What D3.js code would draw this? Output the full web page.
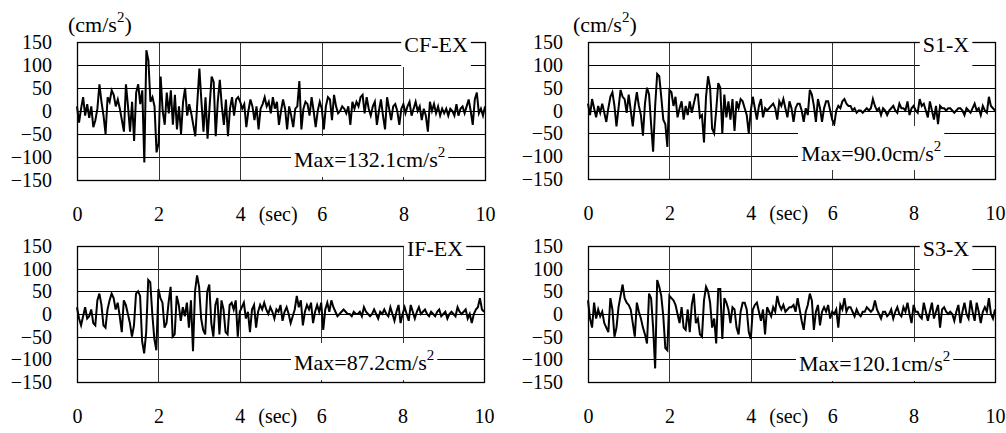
<!DOCTYPE html>
<html>
<head>
<meta charset="utf-8">
<script src="https://cdn.jsdelivr.net/npm/d3@7"></script>
<style>
body { margin: 0; background: #fff; }
</style>
</head>
<body>
<svg id="chart" width="1006" height="433"></svg>
<script>
// sampling step of the records (sec)
var dt = 0.05;

// acceleration records, cm/s^2, one value every dt
var cfEx = [
  10, -25, 5, 30, -10, 15, -15, 10, -35, -20, 5, 58, 20, -10, -50, 30, 20, 45, 35, 10,
  25, 5, -20, -45, 58, 10, -45, 20, -65, 40, 58, 15, 45, -112, 132, 110, 20, 30, 10, -90,
  -70, 75, 0, -30, 40, -5, 45, -30, 35, -40, 10, -50, 20, 50, -10, 15, -5, -30, -55, 20,
  92, 20, -45, 30, -60, 10, 75, 63, -55, 20, 68, 10, -30, 25, -55, 5, 30, -10, 25, 30,
  20, 5, 15, -35, 0, 25, 10, -20, 10, -40, 5, 15, 30, 10, 20, -5, 30, 5, 20, -30,
  0, 25, 5, -40, 10, -10, -35, 5, 10, 65, -40, 5, 20, 15, -10, 30, 0, -35, 0, 20,
  5, -40, 10, 30, 25, -20, 35, 10, -5, 0, 10, 5, -5, 10, -30, 20, 5, 20, 10, 30,
  35, -5, 30, 5, -10, 10, 20, -30, 0, 25, -10, -40, 30, 5, -20, 10, 15, 0, -30, 5,
  15, -5, 10, 20, -10, 5, 20, 0, 10, -20, 5, -10, -45, 20, 0, 15, -5, 10, -10, 5,
  -5, 5, -10, 5, 0, -10, 15, -10, 5, 10, -5, 10, 25, 0, -30, 25, 40, -5, 5, -10, 10
];
var s1X = [
  15, -10, 25, 5, -15, 10, -5, 15, -5, -25, 5, 30, 40, 10, -35, 5, 45, 30, 25, -5,
  35, 0, -35, 10, 40, 10, -10, -55, 15, 50, 35, -30, -90, 10, 80, 75, 30, -20, -30, -80,
  45, 40, 10, 30, -15, 5, 20, -20, 10, -10, 20, -5, 15, 35, 35, -15, -10, -70, 30, 75,
  50, -40, -50, 0, 60, 50, -50, 35, -15, 20, -20, 25, -45, 20, 5, 25, 20, 5, -10, -50,
  0, 30, 5, -20, 10, 25, -15, 5, 0, 5, 10, 15, 5, -20, 20, 10, 25, 5, -15, 20,
  5, -25, 5, 15, 15, 0, -25, 5, -10, 45, 35, 10, -25, 25, 5, -25, 5, 20, 20, 0,
  -20, -30, 0, 10, 5, 20, 25, 15, 10, 10, 0, 5, -5, 0, 0, -5, 0, 5, 0, 5,
  25, 10, 0, 5, -10, 5, 0, -10, 0, 5, 10, 0, -5, 15, 5, 5, 0, 20, -10, 5,
  10, 0, -5, 25, 10, 15, 0, -15, 20, 0, -20, 10, -30, 10, 5, 5, 0, 5, 5, 0,
  -5, 0, 5, 5, 0, -10, 5, 0, -5, 5, 15, 0, 5, -10, 10, 0, -5, 30, 10, 5, 0
];
var ifEx = [
  15, -10, -25, -5, 15, -10, -5, 10, -20, -25, 30, 45, 20, -25, -30, 10, 30, 45, 35, 10,
  25, -5, -40, 30, 20, 0, -20, -50, -25, 45, 50, 40, -60, -87, -40, 75, 70, 0, -55, -80,
  55, 35, 25, -30, -20, 25, 60, -50, -45, 40, 20, -15, 15, -5, 25, -30, 30, -82, 50, 85,
  60, -10, -35, -45, 50, 65, -20, -50, 20, 35, -45, 30, 10, -40, -45, 20, 25, 10, 30, -50,
  5, 15, 25, -10, 5, -40, 10, 20, -30, 5, 20, 10, 25, 10, 0, 15, 5, -10, 10, 5,
  20, -15, 5, 15, 0, -20, -5, 10, 40, 15, 30, -25, 5, 20, 10, 25, -20, 5, 20, 5,
  25, -35, 10, 25, 5, 30, 15, 5, -5, 0, 5, 10, 5, 0, 0, -5, 5, 0, 0, 5,
  -5, 15, 5, 0, -5, 0, 10, 0, -10, 5, 0, 10, 0, -5, 15, 0, -15, 5, 20, -20,
  0, 15, 0, -15, 20, 5, -10, 5, 15, 0, 5, 10, 0, -5, 5, 0, -5, 5, 10, -5,
  0, 5, -10, 0, 5, 0, -5, 15, 5, 0, 5, 10, -10, 0, -20, 0, 10, 15, 35, 10, 5
];
var s3X = [
  30, -10, -30, 25, -10, 10, -5, 5, -20, -30, -40, 35, 10, -50, -30, 15, 40, 65, 35, 25,
  20, 10, -20, -50, 25, 5, -10, -30, -45, -65, 45, 35, -30, -120, 75, 60, 40, -5, -75, -80,
  40, 35, 30, 20, 0, -20, 15, -30, -35, 10, -40, 20, 45, -20, -10, -45, -50, 30, 60, 50,
  25, -30, -10, -65, 55, 55, -55, 35, 25, 10, -20, 15, 10, -30, -45, 5, 25, 25, 10, -40,
  -55, 10, 20, 25, 5, -15, 10, -45, 15, 5, -5, 15, 5, 40, 20, 10, 20, 5, 10, 15,
  15, 20, 5, 35, 10, -15, -35, 5, 20, 45, 30, -35, 5, 20, -25, 5, 15, 5, 20, -10,
  5, 0, 10, -30, 20, 10, 35, 5, 15, 15, 5, -5, 10, 0, -5, 5, 5, 15, 10, 5,
  10, 30, 10, 0, -10, 5, 5, -5, 0, 10, -10, 5, 15, 0, -5, 15, 5, 25, 0, -20,
  20, 5, 5, -5, -10, 25, 5, -15, 5, 25, -10, 5, 20, -30, 10, 15, 5, 0, 5, 0,
  -15, 5, 20, -20, 5, 25, 0, -10, 30, 5, -15, 25, 5, -20, 5, 15, 5, 35, 0, -10, 10
];

var seriesNames = ["CF-EX", "S1-X", "IF-EX", "S3-X"];
var maxValues = ["132.1", "90.0", "87.2", "120.1"];
var yTicks = [150, 100, 50, 0, -50, -100, -150];
var xTicks = [0, 2, 4, 6, 8, 10];
var gridY = [100, 50, 0, -50, -100];
var gridX = [2, 4, 6, 8];

var records = [cfEx, s1X, ifEx, s3X];

// panel frames and the white label boxes, in px
var layout = [
  {x0: 77,  x1: 485, y0: 42,  y1: 180, unitX: 68,  maxX: 294, maxDy: 10, maxBox: [136, 177]},
  {x0: 588, x1: 995, y0: 42,  y1: 179, unitX: 573, maxX: 801, maxDy: 5,  maxBox: [126, 170]},
  {x0: 77,  x1: 484, y0: 246, y1: 382, unitX: null, maxX: 294, maxDy: 11, maxBox: [343, 380]},
  {x0: 588, x1: 995, y0: 246, y1: 382, unitX: null, maxX: 799, maxDy: 12, maxBox: [342, 381]}
];

var svg = d3.select("#chart");
var serif = "'Liberation Serif', 'Times New Roman', serif";
var fs = 20, fsBox = 22;

layout.forEach(function (p, k) {
  var x = d3.scaleLinear().domain([0, 10]).range([p.x0, p.x1]);
  var y = d3.scaleLinear().domain([-150, 150]).range([p.y1, p.y0]);
  var g = svg.append("g").style("font-family", serif);

  // grid
  g.selectAll(".gy").data(gridY).enter().append("line")
    .attr("x1", p.x0).attr("x2", p.x1)
    .attr("y1", function (d) { return Math.round(y(d)) + 0.5; })
    .attr("y2", function (d) { return Math.round(y(d)) + 0.5; })
    .style("stroke", "#000").style("stroke-width", 1);
  g.selectAll(".gx").data(gridX).enter().append("line")
    .attr("y1", p.y0).attr("y2", p.y1)
    .attr("x1", function (d) { return Math.round(x(d)) + 0.5; })
    .attr("x2", function (d) { return Math.round(x(d)) + 0.5; })
    .style("stroke", "#333").style("stroke-width", 1);

  // record
  var line = d3.line()
    .x(function (d, i) { return x(i * dt); })
    .y(function (d) { return y(d); });
  g.append("path").datum(records[k])
    .attr("d", line)
    .style("fill", "none").style("stroke", "#000")
    .style("stroke-width", 2).style("stroke-linejoin", "miter");

  // frame
  g.append("rect")
    .attr("x", p.x0 + 0.5).attr("y", p.y0 + 0.5)
    .attr("width", p.x1 - p.x0).attr("height", p.y1 - p.y0)
    .style("fill", "none").style("stroke", "#000").style("stroke-width", 1.3);

  // y labels
  var ya = g.append("g").attr("transform", "translate(" + p.x0 + ",0)")
    .call(d3.axisLeft(y).tickValues(yTicks).tickSize(0).tickPadding(25));
  ya.select(".domain").remove();
  ya.attr("font-family", null);
  ya.selectAll("text").style("font-size", fs + "px")
    .style("font-family", serif).style("fill", "#000").attr("dy", "0.33em");

  // x labels
  var xa = g.append("g").attr("transform", "translate(0," + p.y1 + ")")
    .call(d3.axisBottom(x).tickValues(xTicks).tickSize(0));
  xa.select(".domain").remove();
  xa.attr("font-family", null);
  xa.selectAll("text").style("font-size", fs + "px")
    .style("font-family", serif).style("fill", "#000")
    .attr("y", 41).attr("dy", 0);
  g.append("text").attr("x", x(4.93)).attr("y", p.y1 + 41)
    .attr("text-anchor", "middle").style("font-size", fs + "px").text("(sec)");

  // unit
  if (p.unitX !== null) {
    var u = g.append("text").attr("x", p.unitX).attr("y", p.y0 - 10).style("font-size", fsBox + "px");
    u.append("tspan").text("(cm/s");
    u.append("tspan").attr("dy", -10).style("font-size", "15px").text("2");
    u.append("tspan").attr("dy", 10).text(")");
  }

  // series name in a white box over the top edge
  var nt = g.append("text").attr("x", p.x1 - 49).attr("y", p.y0 + 10)
    .attr("text-anchor", "middle").style("font-size", fsBox + "px").text(seriesNames[k]);
  var nb = nt.node().getBBox();
  g.insert("rect", function () { return nt.node(); })
    .attr("x", nb.x - 3).attr("width", nb.width + 6)
    .attr("y", p.y0 - 10).attr("height", Math.round(y(100)) + 2 - (p.y0 - 10))
    .style("fill", "#fff");

  // max label in a white box
  var mt = g.append("text").attr("x", p.maxX).attr("y", y(-100) + p.maxDy)
    .style("font-size", fsBox + "px");
  mt.append("tspan").text("Max=" + maxValues[k] + "cm/s");
  mt.append("tspan").attr("dy", -10).style("font-size", "15px").text("2");
  var mb = mt.node().getBBox();
  g.insert("rect", function () { return mt.node(); })
    .attr("x", mb.x - 3).attr("width", mb.width + 6)
    .attr("y", p.maxBox[0]).attr("height", p.maxBox[1] - p.maxBox[0])
    .style("fill", "#fff");
});
</script>
</body>
</html>
